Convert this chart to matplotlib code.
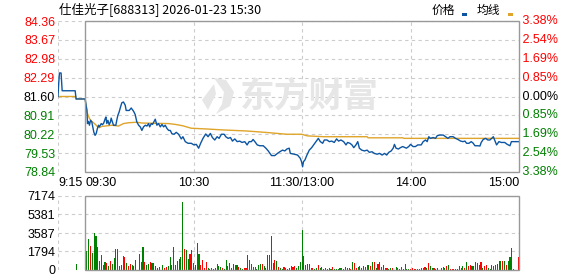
import matplotlib
matplotlib.use("Agg")
import matplotlib.pyplot as plt
from matplotlib.patches import Rectangle, Polygon
from matplotlib.transforms import blended_transform_factory

# ---------------- data ----------------
title = "仕佳光子[688313] 2026-01-23 15:30"
prev_close = 81.60
price_ticks = [78.84, 79.53, 80.22, 80.91, 81.60, 82.29, 82.98, 83.67, 84.36]
pct_labels = ["3.38%", "2.54%", "1.69%", "0.85%", "0.00%", "0.85%", "1.69%", "2.54%", "3.38%"]
vol_ticks = [0, 1794, 3587, 5381, 7174]
time_ticks = [-15, 0, 60, 120, 180, 240]
time_labels = ["9:15", "09:30", "10:30", "11:30/13:00", "14:00", "15:00"]

# minutes after 09:30 (negative = call auction), price
price_t = [-15, -14.6, -14.2, -13.3, -12.7, -5.5, -5.0, 0,
           1.0, 1.3, 1.85, 2.4, 3.0, 3.7, 4.25, 4.8, 5.5, 6.1, 6.8, 7.4, 7.9, 8.9, 9.6, 10.3, 11.1, 11.5,
           12.0, 12.6, 13.3, 14.0, 14.4, 14.8, 15.7, 17.0, 17.5, 18.1, 18.8, 19.6, 20.3, 21.2, 22.2, 22.7,
           24.4, 25.5, 26.8, 27.7, 28.6, 29.6, 30.5, 31.4, 32.3, 33.3, 34.2, 35.1, 35.7, 36.6, 37.3, 38.8,
           39.7, 40.6, 41.6, 42.5, 43.4, 44.3, 45.3, 46.2, 47.1, 48.0, 49.2, 50.4, 51.7, 53.2, 54.1, 55.4,
           56.9, 58.7, 60.2, 61.5, 62.8, 63.9, 65.2, 66.7, 68.0, 69.3, 70.4, 71.7, 73.0, 74.1, 75.4, 76.9,
           77.8, 79.1, 80.4, 81.5, 82.8, 84.1, 85.5, 86.8, 88.3, 89.6, 90.7, 92.0, 92.9, 93.9, 95.2, 96.6,
           98.5, 100.0, 101.3, 103.1, 104.9, 106.4, 107.7, 109.2, 110.5, 111.6, 112.9, 113.5, 115.7, 117.5,
           119.0, 119.7, 120.3, 120.8, 121.6, 122.7, 124.0, 125.3, 126.4, 127.7, 129.0, 130.1, 131.4, 132.3,
           133.8, 135.1, 136.4, 137.8, 139.1, 140.2, 141.5, 143.0, 144.3, 145.2, 146.5, 147.6, 148.6, 149.8,
           150.8, 151.7, 153.0, 154.5, 156.0, 157.2, 158.7, 160.0, 161.5, 162.8, 164.3, 165.6, 166.8, 168.0,
           169.3, 170.4, 171.1, 172.0, 173.3, 174.4, 175.7, 177.7, 179.0, 180.0, 181.4, 182.7, 184.0, 185.9,
           187.0, 188.3, 189.2, 190.1, 191.0, 192.5, 193.8, 194.8, 196.2, 198.1, 199.4, 200.7, 201.8, 203.6,
           204.9, 206.2, 207.7, 209.0, 210.1, 211.0, 212.3, 213.6, 214.7, 215.6, 217.3, 218.4, 219.1, 220.2,
           221.5, 222.8, 223.9, 224.9, 225.8, 226.5, 227.6, 228.9, 230.2, 232.1, 233.5, 235.0, 235.8, 237.6, 240]
price_v = [81.60, 82.09, 82.46, 82.46, 81.81, 81.81, 81.51, 81.51,
           81.10, 80.61, 80.69, 80.55, 80.73, 80.67, 80.49, 80.30, 80.18, 80.24, 80.43, 80.55, 80.49, 80.61, 80.57, 80.63, 80.79, 80.85,
           80.61, 80.73, 80.57, 80.67, 80.81, 80.73, 80.55, 80.55, 80.73, 80.91, 81.03, 81.22, 81.37, 81.40, 81.28, 81.09,
           81.09, 81.18, 81.06, 80.94, 80.67, 80.55, 80.49, 80.36, 80.49, 80.55, 80.52, 80.61, 80.49, 80.61, 80.58, 80.77,
           80.55, 80.61, 80.49, 80.58, 80.49, 80.55, 80.43, 80.36, 80.36, 80.24, 80.22, 80.29, 80.22, 80.05, 80.13, 79.95,
           79.89, 79.89, 79.83, 79.85, 79.71, 79.89, 80.07, 80.23, 80.13, 80.25, 80.10, 80.01, 80.13, 80.07, 80.22, 80.22,
           80.13, 80.07, 80.10, 79.97, 80.05, 79.95, 79.97, 79.92, 79.95, 79.83, 79.95, 79.95, 80.03, 79.95, 79.83, 79.80,
           79.80, 79.71, 79.61, 79.44, 79.44, 79.52, 79.58, 79.64, 79.61, 79.68, 79.71, 79.52, 79.49, 79.46,
           79.34, 79.22, 79.03, 79.22, 79.28, 79.46, 79.64, 79.73, 79.83, 79.95, 80.07, 79.95, 79.89, 80.01,
           80.01, 79.95, 79.97, 79.92, 80.05, 79.97, 80.01, 79.95, 79.83, 79.92, 79.89, 79.83, 79.73, 79.83,
           79.95, 79.71, 79.64, 79.61, 79.64, 79.56, 79.58, 79.52, 79.49, 79.52, 79.46, 79.52, 79.46, 79.56,
           79.61, 79.71, 79.85, 79.71, 79.68, 79.73, 79.77, 79.71, 79.77, 79.85, 79.77, 79.77, 79.83, 79.83,
           79.95, 80.01, 79.95, 80.13, 80.07, 80.10, 80.07, 80.17, 80.19, 80.19, 80.13, 80.07, 80.13, 80.13,
           80.07, 80.03, 79.97, 79.95, 79.97, 79.89, 79.89, 79.95, 79.89, 79.80, 79.80, 79.79, 79.92, 80.03,
           80.07, 80.01, 80.01, 80.07, 80.13, 80.01, 79.83, 79.95, 79.92, 79.92, 79.85, 79.80, 79.95, 79.95, 79.95]

avg_t = [-15, -5.2, -5.0, 0, 1.0, 2.4, 3.7, 5.2, 7.0, 7.9, 9.2, 11.1, 14.8, 18.5, 19.4, 21.2, 24.0, 28.6,
         31.4, 38.8, 46.2, 49.9, 54.0, 58.7, 68.0, 75.4, 89.2, 101.3, 111.4, 119.7, 123.0, 132.0, 156.0,
         156.5, 175.7, 176.3, 240]
avg_v = [81.60, 81.60, 81.51, 81.51, 81.03, 80.79, 80.69, 80.61, 80.49, 80.46, 80.51, 80.52, 80.55, 80.52,
         80.55, 80.61, 80.64, 80.66, 80.63, 80.62, 80.61, 80.58, 80.53, 80.44, 80.41, 80.38, 80.34, 80.28,
         80.22, 80.22, 80.16, 80.13, 80.13, 80.09, 80.09, 80.07, 80.07]

# per-minute volume, minutes 1..240
volume = [1841, 3004, 2326, 1647, 3585, 3327, 2229, 872, 1453, 484,
          775, 646, 388, 872, 581, 1163, 2035, 2035, 388, 484,
          1357, 1260, 678, 388, 581, 484, 388, 969, 0, 1550,
          775, 2229, 775, 484, 581, 775, 678, 678, 388, 194,
          291, 0, 484, 194, 291, 388, 1260, 484, 2229, 484,
          872, 1066, 1260, 6589, 2035, 1938, 1066, 1550, 1938, 678,
          484, 2616, 1550, 484, 969, 194, 775, 194, 97, 194,
          97, 194, 581, 388, 291, 194, 97, 969, 388, 678,
          194, 581, 484, 484, 291, 194, 97, 194, 194, 1453,
          969, 581, 291, 291, 97, 484, 581, 581, 388, 194,
          1453, 1453, 3295, 678, 969, 872, 291, 194, 97, 291,
          194, 97, 194, 388, 291, 388, 194, 388, 775, 3876,
          1357, 485, 581, 581, 194, 194, 97, 194, 485, 194,
          291, 97, 194, 97, 194, 97, 291, 97, 97, 97,
          194, 194, 97, 291, 194, 194, 97, 775, 678, 194,
          291, 388, 194, 388, 291, 485, 485, 388, 775, 775,
          194, 581, 775, 291, 485, 194, 194, 97, 194, 194,
          0, 291, 194, 97, 291, 97, 581, 97, 97, 97,
          194, 97, 97, 97, 97, 194, 194, 291, 194, 678,
          388, 194, 194, 97, 194, 0, 194, 291, 194, 388,
          485, 97, 97, 97, 97, 97, 388, 194, 388, 194,
          775, 388, 485, 388, 388, 775, 678, 485, 775, 194,
          388, 485, 194, 97, 485, 388, 485, 581, 872, 872,
          872, 872, 485, 872, 1260, 2132, 97, 0, 0, 1260]
# direction per minute: r = up tick, g = down tick, - = no trade
vol_dir = ("ggrgggrrgr" "grgrgggrrr" "rrgrrggg-g" "ggrggrgrgr" "r-grrggrgr"
           "ggggrggrgr" "gggrrrrggg" "ggrggrgggg" "ggrgrggrrg" "rrgrgggrgg"
           "gggrrgrggr" "rgggrrgggg" "rgrrgrggrg" "ggrgrgrggg" "grgrggrgrr"
           "grrggrgrgr" "grgrggrggr" "-grgrgrggr" "rrrrrgrrgr" "ggrrg-rrgr"
           "grrggrgggr" "grrggggrrg" "rrggrgggrg" "rgrggrg--r")
auction_minute = -5
auction_volume = 581

# ---------------- figure ----------------
plt.rcParams['font.family'] = ['Liberation Sans', 'Noto Sans CJK SC', 'DejaVu Sans']
W, H = 578, 276
fig = plt.figure(figsize=(W / 100, H / 100), dpi=100)
fig.patch.set_facecolor('white')

def fx(px):
    return px / W

def fy(py):
    return 1 - py / H

L, R = 58, 519
ax = fig.add_axes([fx(L), fy(172), (R - L) / W, (172 - 21) / H])
axv = fig.add_axes([fx(L), fy(270), (R - L) / W, (270 - 196) / H])

GRID = '#cccccc'
FRAME = '#999999'
RED = '#ff0000'
GREEN = '#008000'
BLUE = '#0c55a3'
ORANGE = '#dfa42a'
dash = (0, (3, 3))

for a in (ax, axv):
    a.set_xlim(-15, 240)
    for s in a.spines.values():
        s.set_visible(False)
    a.set_xticks([])
    a.tick_params(axis='y', length=0, pad=2)
    a.axvline(-15, color=GRID, lw=0.8, ls=dash, zorder=1)
    for t in (60, 120, 180):
        a.axvline(t, color=GRID, lw=0.8, ls=dash, zorder=1)
    tr = blended_transform_factory(a.transData, a.transAxes)
    a.add_patch(Rectangle((0, 0), 240, 1, transform=tr, fill=False,
                          edgecolor=FRAME, lw=1.0, zorder=5, clip_on=False))
    a.set_facecolor('none')

# price panel
ax.set_ylim(price_ticks[0], price_ticks[-1])
ax.hlines(price_ticks, -15, 240, colors=GRID, lw=0.8, linestyles=dash, zorder=1)
ax.set_yticks(price_ticks)
ax.set_yticklabels([f"{p:.2f}" for p in price_ticks], fontsize=9)
for lab, p in zip(ax.get_yticklabels(), price_ticks):
    lab.set_color(RED if p > prev_close else (GREEN if p < prev_close else 'black'))

# watermark
fig.text(fx(309), fy(96), "东方财富", fontsize=25, fontweight='bold', color='#e6e6e6',
         family=['Noto Sans CJK SC'], ha='center', va='center', zorder=0)
for pts in ([[214, 78], [226, 80], [234, 92], [230, 106], [216, 114], [222, 104], [224, 92]],
            [[202, 100], [214, 84], [216, 94], [208, 110]]):
    fig.patches.append(Polygon([[fx(x), fy(y)] for x, y in pts], closed=True,
                               transform=fig.transFigure, facecolor='#e6e6e6',
                               edgecolor='none', zorder=0))

ax.plot(avg_t, avg_v, color=ORANGE, lw=1.0, zorder=3)
ax.plot(price_t, price_v, color=BLUE, lw=1.0, zorder=4)

# right percent labels
for p, s in zip(price_ticks, pct_labels):
    c = RED if p > prev_close else (GREEN if p < prev_close else 'black')
    ax.text(1.0, (p - price_ticks[0]) / (price_ticks[-1] - price_ticks[0]), " " + s,
            transform=ax.transAxes, ha='left', va='center', fontsize=9, color=c)

# time labels
for t, s in zip(time_ticks, time_labels):
    ha = 'left' if t <= 0 else ('right' if t == 240 else 'center')
    ax.text(t, -0.03, s, transform=blended_transform_factory(ax.transData, ax.transAxes),
            ha=ha, va='top', fontsize=9, color='black')

# volume panel
axv.set_ylim(vol_ticks[0], vol_ticks[-1])
axv.hlines(vol_ticks, -15, 240, colors=GRID, lw=0.8, linestyles=dash, zorder=1)
axv.set_yticks(vol_ticks)
axv.set_yticklabels([str(v) for v in vol_ticks], fontsize=9, color='black')
minutes = list(range(1, 241))
cols = [RED if d == 'r' else GREEN for d in vol_dir]
axv.bar(minutes, volume, width=0.6, color=cols, linewidth=0, zorder=3)
axv.bar([auction_minute], [auction_volume], width=0.6, color=GREEN, linewidth=0, zorder=3)

# title & legend
fig.text(fx(59), fy(10), title, fontsize=9, family=['Noto Sans CJK SC'], ha='left', va='center')
fig.text(fx(432), fy(10), "价格", fontsize=8.5, family=['Noto Sans CJK SC'], ha='left', va='center')
fig.patches.append(Rectangle((fx(462), fy(16)), 5 / W, 3 / H, transform=fig.transFigure,
                             facecolor=BLUE, edgecolor='none'))
fig.text(fx(477), fy(10), "均线", fontsize=8.5, family=['Noto Sans CJK SC'], ha='left', va='center')
fig.patches.append(Rectangle((fx(508), fy(16)), 5 / W, 3 / H, transform=fig.transFigure,
                             facecolor=ORANGE, edgecolor='none'))

fig.savefig("out.png", dpi=100)
